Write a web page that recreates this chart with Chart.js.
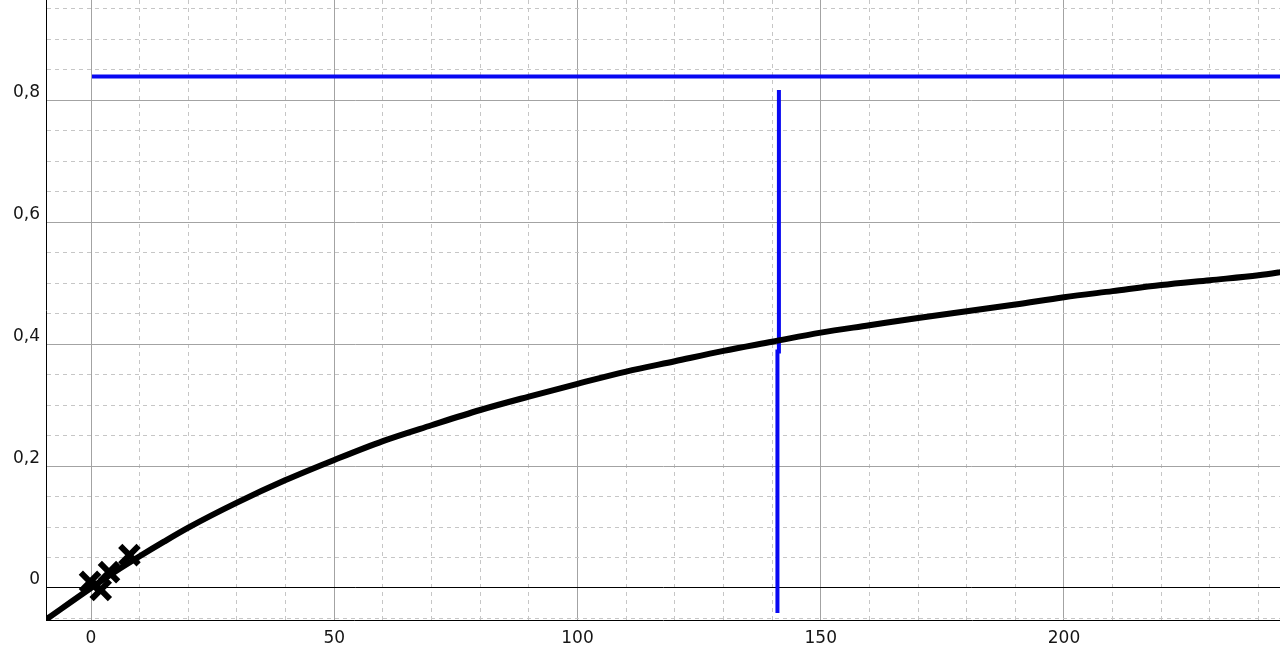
<!DOCTYPE html>
<html>
<head>
<meta charset="utf-8">
<style>
  html, body { margin: 0; padding: 0; background: #fff; }
  #wrap { width: 1280px; height: 662px; }
</style>
</head>
<body>
<div id="wrap"><canvas id="chart" width="1280" height="662"></canvas></div>
<script src="https://cdn.jsdelivr.net/npm/chart.js@4.4.1/dist/chart.umd.min.js"></script>
<script>
// fitted curve
const curveX = [-9.3, 0, 5, 10, 15, 20, 30, 40, 50, 60, 70, 80, 90, 100, 110, 120, 130, 140, 150, 160, 170, 180, 190, 200, 210, 220, 230, 240, 246];
const curveY = [-0.052, 0, 0.027, 0.052, 0.076, 0.099, 0.140, 0.177, 0.210, 0.241, 0.267, 0.292, 0.314, 0.335, 0.355, 0.372, 0.389, 0.404, 0.419, 0.431, 0.443, 0.454, 0.465, 0.477, 0.487, 0.497, 0.505, 0.513, 0.520];

// measured points (x markers)
const markerX = [-0.2, 2.0, 3.7, 7.9];
const markerY = [0.010, -0.003, 0.026, 0.054];

// blue guide lines
const levelX = [0.2, 250];
const levelY = [0.839, 0.839];
const cutX = [141.4, 141.4, 141.1, 141.1];
const cutY = [0.817, 0.388, 0.388, -0.041];

// labelled ticks
const xLabels = [0, 50, 100, 150, 200];
const yLabels = [0, 0.2, 0.4, 0.6, 0.8];

const xGrid = [];
for (let v = 0; v <= 240; v += 10) xGrid.push(v);
const yGrid = [];
for (let i = -1; i <= 19; i++) yGrid.push(Math.round(i * 5) / 100);

const toPoints = (xs, ys) => xs.map((x, i) => ({ x, y: ys[i] }));
const near = (a, b) => Math.abs(a - b) < 1e-6;
const isMajorX = (v) => near(v % 50, 0);
const isMajorY = (v) => near(v / 0.2, Math.round(v / 0.2));

const majorColor = '#a3a3a3';
const minorColor = '#c6c6c6';
const font = { family: 'DejaVu Sans', size: 17 };

const buildChart = (ctxId) => {
    const ctx = document.getElementById(ctxId);
    if (!ctx || typeof Chart === 'undefined') return null;
    return new Chart(ctx, {
        type: 'scatter',
        data: {
            datasets: [
                {
                    type: 'line', data: toPoints(levelX, levelY),
                    borderColor: '#0808f2', borderWidth: 4, pointRadius: 0, order: 3,
                },
                {
                    type: 'line', data: toPoints(cutX, cutY),
                    borderColor: '#0808f2', borderWidth: 4, pointRadius: 0, order: 2,
                },
                {
                    type: 'line', data: toPoints(curveX, curveY),
                    borderColor: '#000', borderWidth: 6, pointRadius: 0,
                    cubicInterpolationMode: 'monotone', order: 1,
                },
                {
                    data: toPoints(markerX, markerY),
                    pointStyle: 'crossRot', pointRadius: 13, borderWidth: 6,
                    borderColor: '#000', backgroundColor: '#000', order: 0,
                },
            ],
        },
        options: {
            responsive: false,
            animation: false,
            devicePixelRatio: 1,
            layout: { padding: 0, autoPadding: false },
            plugins: { legend: { display: false }, tooltip: { enabled: false } },
            scales: {
                x: {
                    type: 'linear', min: -9.25, max: 244.4,
                    afterBuildTicks: (axis) => { axis.ticks = xGrid.map((value) => ({ value })); },
                    afterFit: (scale) => {
                        scale.height = 42;
                        scale.paddingLeft = 0; scale.paddingRight = 0;
                    },
                    grid: {
                        drawTicks: false,
                        color: (c) => (c.tick && isMajorX(c.tick.value) ? majorColor : minorColor),
                        lineWidth: 1,
                    },
                    border: {
                        color: '#000', width: 1,
                        dash: (c) => (c.tick && !isMajorX(c.tick.value) ? [4, 4] : []),
                    },
                    ticks: {
                        autoSkip: false, maxRotation: 0, padding: 8,
                        color: '#151515', font,
                        callback: (v) => (xLabels.some((l) => near(l, v)) ? String(v) : ''),
                    },
                },
                y: {
                    type: 'linear', min: -0.0525, max: 0.9646,
                    afterBuildTicks: (axis) => { axis.ticks = yGrid.map((value) => ({ value })); },
                    afterFit: (scale) => {
                        scale.width = 46;
                        scale.paddingTop = 0; scale.paddingBottom = 0;
                    },
                    grid: {
                        drawTicks: false,
                        color: (c) => {
                            if (!c.tick) return minorColor;
                            if (near(c.tick.value, 0)) return '#000';
                            return isMajorY(c.tick.value) ? majorColor : minorColor;
                        },
                        lineWidth: 1,
                    },
                    border: {
                        color: '#000', width: 1,
                        dash: (c) => (c.tick && !isMajorY(c.tick.value) ? [4, 4] : []),
                    },
                    ticks: {
                        autoSkip: false, padding: 6, labelOffset: -8,
                        color: '#151515', font,
                        callback: (v) => {
                            const l = yLabels.find((y) => near(y, v));
                            return l === undefined ? '' : String(l).replace('.', ',');
                        },
                    },
                },
            },
        },
    });
};

buildChart('chart');
</script>
</body>
</html>
